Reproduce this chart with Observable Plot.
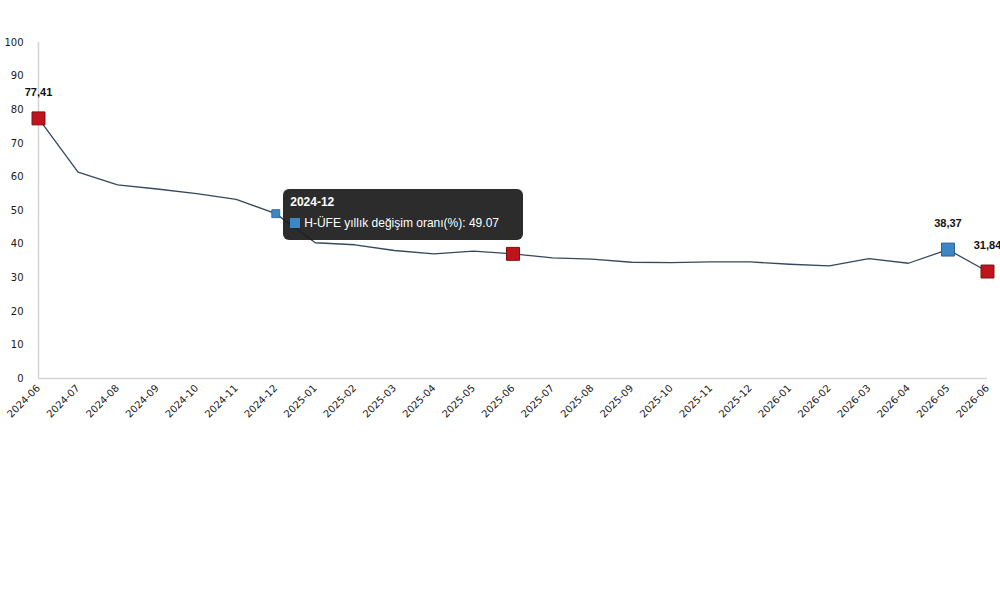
<!DOCTYPE html>
<html>
<head>
<meta charset="utf-8">
<script src="https://cdn.jsdelivr.net/npm/d3@7"></script>
<script src="https://cdn.jsdelivr.net/npm/@observablehq/plot@0.6"></script>
<style>
  html, body { margin: 0; padding: 0; background: #fff; }
  #wrap { position: relative; width: 1000px; height: 593px; }
  #tip {
    position: absolute; background: rgba(28,28,28,0.93); color: #fff;
    border-radius: 6px; font-family: "Liberation Sans", Arial, sans-serif;
    font-size: 12px; box-sizing: border-box; padding: 6px 7px; white-space: nowrap;
    overflow: hidden;
  }
  #tip .t { font-weight: bold; margin-bottom: 7px; }
  #tip .sw { display: inline-block; width: 10px; height: 10px; background: #3d87c7; vertical-align: -1px; margin-right: 4px; }
</style>
</head>
<body>
<div id="wrap"></div>
<script>
const months = ["2024-06","2024-07","2024-08","2024-09","2024-10","2024-11","2024-12",
  "2025-01","2025-02","2025-03","2025-04","2025-05","2025-06","2025-07","2025-08","2025-09",
  "2025-10","2025-11","2025-12","2026-01","2026-02","2026-03","2026-04","2026-05","2026-06"];
const values = [77.41, 61.4, 57.6, 56.4, 55.0, 53.3, 49.07,
  40.4, 39.8, 38.1, 37.1, 37.9, 37.1, 35.9, 35.5, 34.6,
  34.5, 34.7, 34.7, 34.0, 33.5, 35.7, 34.3, 38.37, 31.84];
const yTicks = [0,10,20,30,40,50,60,70,80,90,100];
const redMonths = ["2024-06","2025-06","2026-06"];
const blueMonths = ["2026-05"];
const hoverMonth = "2024-12";
const labelMonths = ["2024-06","2026-05","2026-06"];
const seriesName = "H-ÜFE yıllık değişim oranı(%)";

const data = months.map((m, i) => ({month: m, value: values[i]}));
const fmt = v => v.toFixed(2).replace(".", ",");

const chart = Plot.plot({
  width: 1000,
  height: 593,
  marginTop: 42,
  marginBottom: 214,
  marginLeft: 38,
  marginRight: 13,
  style: {fontFamily: "'DejaVu Sans', Verdana, sans-serif", fontSize: "10px", color: "#1a1a1a", background: "#fff", overflow: "visible"},
  x: {type: "point", domain: months, padding: 0, round: false, range: [38, 987]},
  y: {domain: [0, 100], range: [378, 42]},
  marks: [
    Plot.ruleX([months[0]], {y1: 0, y2: 100, stroke: "#d4d4d4", strokeWidth: 1.5}),
    Plot.ruleY([0], {stroke: "#d4d4d4", strokeWidth: 1.5}),
    Plot.axisY({ticks: yTicks, tickSize: 0, tickPadding: 15, label: null, fontSize: 10}),
    Plot.axisX({tickRotate: -45, tickSize: 0, tickPadding: 7, label: null, fontSize: 10}),
    Plot.line(data, {x: "month", y: "value", stroke: "#34485e", strokeWidth: 1.3}),
    Plot.dot(data.filter(d => redMonths.includes(d.month)), {x: "month", y: "value", symbol: "square", r: 7.3, fill: "#c0141c", stroke: "#7d0e12", strokeWidth: 1}),
    Plot.dot(data.filter(d => blueMonths.includes(d.month)), {x: "month", y: "value", symbol: "square", r: 7.3, fill: "#3d87c7", stroke: "#2a5f8f", strokeWidth: 1}),
    Plot.dot(data.filter(d => d.month === hoverMonth), {x: "month", y: "value", symbol: "square", r: 4.5, fill: "#3d87c7", stroke: "#2a5f8f", strokeWidth: 0.8}),
    Plot.text(data.filter(d => labelMonths.includes(d.month)), {x: "month", y: "value", text: d => fmt(d.value), dy: -26, fontWeight: "bold", fontSize: 11, fontFamily: "'Liberation Sans', Arial, sans-serif", fill: "#111"})
  ]
});

const wrap = document.getElementById("wrap");
wrap.appendChild(chart);

// tooltip positioned from the chart's own scales
const hx = chart.scale("x").apply(hoverMonth);
const hv = values[months.indexOf(hoverMonth)];
const hy = chart.scale("y").apply(hv);
const tip = document.createElement("div");
tip.id = "tip";
tip.style.left = (hx + 8) + "px";
tip.style.top = (hy - 24) + "px";
tip.style.width = "240px";
tip.style.height = "51px";
tip.innerHTML = `<div class="t">${hoverMonth}</div><div><span class="sw"></span>${seriesName}: ${hv.toFixed(2)}</div>`;
wrap.appendChild(tip);
</script>
</body>
</html>
